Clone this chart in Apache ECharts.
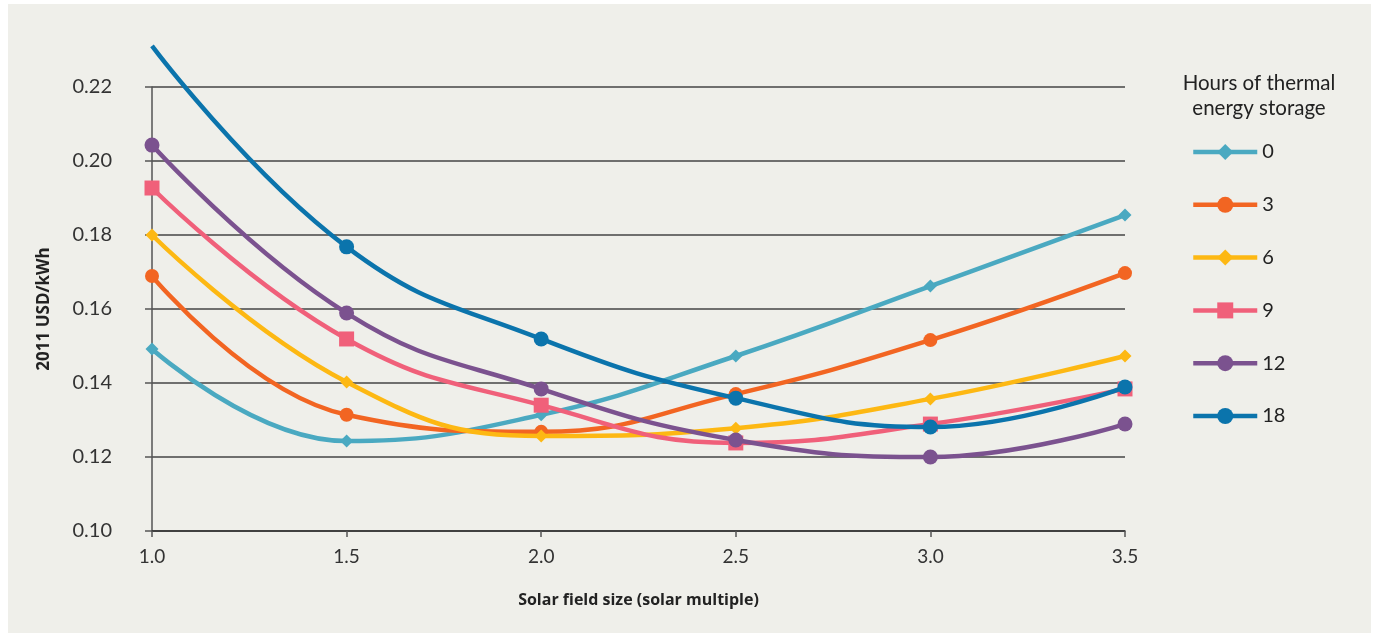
<!DOCTYPE html>
<html>
<head>
<meta charset="utf-8">
<script src="https://cdn.jsdelivr.net/npm/echarts@6/dist/echarts.min.js"></script>
<style>
html,body{margin:0;padding:0;background:#ffffff;}
#wrap{position:absolute;left:8px;top:4px;width:1363px;height:629px;background:#efefea;}
#chart{position:absolute;left:-8px;top:-4px;width:1376px;height:638px;}
</style>
</head>
<body>
<div id="wrap"><div id="chart"></div></div>
<script>
const solarMultiple = [1.0, 1.5, 2.0, 2.5, 3.0, 3.5];
const seriesNames = ['0', '3', '6', '9', '12', '18'];
const h0  = [0.1492, 0.1243, 0.1314, 0.1473, 0.1662, 0.1854];
const h3  = [0.1689, 0.1314, 0.1268, 0.1370, 0.1516, 0.1697];
const h6  = [0.1800, 0.1403, 0.1257, 0.1278, 0.1357, 0.1473];
const h9  = [0.1927, 0.1519, 0.1340, 0.1238, 0.1289, 0.1384];
const h12 = [0.2043, 0.1589, 0.1384, 0.1246, 0.1200, 0.1289];
const h18 = [0.2311, 0.1768, 0.1519, 0.1359, 0.1281, 0.1389];
const xTickLabels = ['1.0', '1.5', '2.0', '2.5', '3.0', '3.5'];
const yTickLabels = ['0.10', '0.12', '0.14', '0.16', '0.18', '0.20', '0.22'];

const colors = ['#4aa9c1', '#f26522', '#fdb813', '#f0607a', '#7b528f', '#0b74ac'];
const symbols = ['diamond', 'circle', 'diamond', 'rect', 'circle', 'circle'];
const symSizes = [13, 14, 13, 15, 15, 15];
const allData = [h0, h3, h6, h9, h12, h18];

const FONT = 'Lato, "Noto Sans", sans-serif';
const BFONT = '"Open Sans", "Noto Sans", sans-serif';

const series = allData.map((vals, i) => ({
  name: seriesNames[i],
  type: 'line',
  smooth: 0.45,
  clip: false,
  symbol: symbols[i],
  symbolSize: symSizes[i],
  lineStyle: { width: 4.5, color: colors[i] },
  itemStyle: { color: colors[i] },
  z: 2 + i,
  data: vals.map((v, j) => {
    const item = { value: [solarMultiple[j], v] };
    if (i === 5 && j === 0) item.symbol = 'none';
    return item;
  })
}));

const chart = echarts.init(document.getElementById('chart'), null, { renderer: 'canvas' });
chart.setOption({
  backgroundColor: 'transparent',
  animation: false,
  color: colors,
  grid: { left: 152, right: 1376 - 1125, top: 87, bottom: 638 - 531, containLabel: false },
  xAxis: {
    type: 'value',
    min: 1.0, max: 3.5, interval: 0.5,
    name: 'Solar field size (solar multiple)',
    nameLocation: 'middle',
    nameGap: 61,
    nameTextStyle: { fontFamily: BFONT, fontWeight: 'bold', fontSize: 16, color: '#222' },
    axisLine: { show: true, lineStyle: { color: '#333', width: 1.5 } },
    axisTick: { show: true, length: 6, lineStyle: { color: '#555', width: 1.5 } },
    axisLabel: {
      margin: 16, fontFamily: FONT, fontSize: 19, color: '#333',
      formatter: v => xTickLabels[Math.round((v - 1.0) / 0.5)] || ''
    },
    splitLine: { show: false }
  },
  yAxis: {
    type: 'value',
    min: 0.10, max: 0.22, interval: 0.02,
    name: '2011 USD/kWh',
    nameLocation: 'middle',
    nameGap: 99,
    nameRotate: 90,
    nameTextStyle: { fontFamily: BFONT, fontWeight: 'bold', fontSize: 17, color: '#222' },
    axisLine: { show: true, lineStyle: { color: '#555', width: 1.5 } },
    axisTick: { show: true, length: 7, lineStyle: { color: '#555', width: 1.5 } },
    axisLabel: {
      margin: 40, fontFamily: FONT, fontSize: 20, color: '#333',
      formatter: v => yTickLabels[Math.round((v - 0.10) / 0.02)] || ''
    },
    splitLine: { show: true, lineStyle: { color: '#444', width: 1.5 } }
  },
  legend: {
    orient: 'vertical',
    left: 1186,
    top: 137,
    itemWidth: 64,
    itemHeight: 20,
    itemGap: 32.8,
    lineStyle: { width: 4.5 },
    textStyle: { fontFamily: FONT, fontSize: 20, color: '#222', lineHeight: 20 },
    data: seriesNames
  },
  title: {
    text: 'Hours of thermal\nenergy storage',
    left: 1254,
    top: 66,
    textAlign: 'center',
    textStyle: { fontFamily: FONT, fontSize: 20.5, fontWeight: 'normal', color: '#222', lineHeight: 25 }
  },
  series: series
});
</script>
</body>
</html>
